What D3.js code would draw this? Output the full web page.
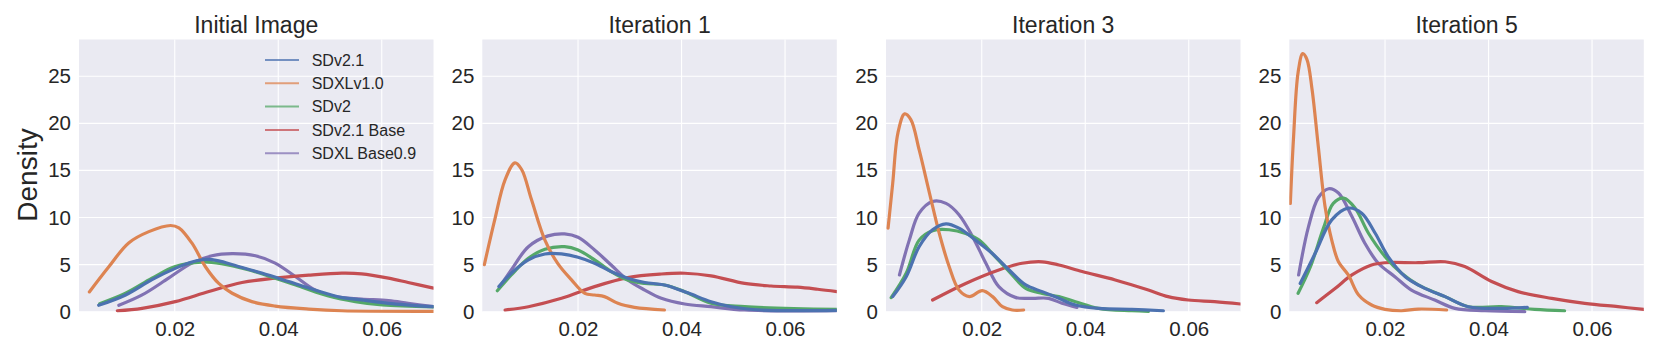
<!DOCTYPE html>
<html>
<head>
<meta charset="utf-8">
<script src="https://cdn.jsdelivr.net/npm/d3@7"></script>
<style>
  html, body { margin: 0; padding: 0; background: #ffffff; }
  svg text { font-family: "Liberation Sans", Arial, Helvetica, sans-serif; fill: #262626; }
</style>
</head>
<body>
<svg id="chart" width="1661" height="356"></svg>
<script>
// ---------- data ----------
const panelTitles = ["Initial Image", "Iteration 1", "Iteration 3", "Iteration 5"];
const seriesNames = ["SDv2.1", "SDXLv1.0", "SDv2", "SDv2.1 Base", "SDXL Base0.9"];
const seriesColors = ["#4C72B0", "#DD8452", "#55A868", "#C44E52", "#8172B3"];
const xTicks = [0.02, 0.04, 0.06];
const yTicks = [0, 5, 10, 15, 20, 25];
const xDomain = [0.0015, 0.07];
const yDomain = [0, 28.9];

// each series: one list of [x, density] points per panel
const sdv21 = [
  [[0.0053,0.68],[0.0105,1.78],[0.0156,3.4],[0.0201,4.6],[0.0235,5.3],[0.026,5.55],[0.0285,5.4],[0.0317,4.9],[0.0368,4.1],[0.042,3.2],[0.0471,2.3],[0.0523,1.5],[0.0561,1.25],[0.0613,0.89],[0.070,0.53]],
  [[0.0047,2.66],[0.0071,4.08],[0.0104,5.5],[0.0136,6.13],[0.0168,6.13],[0.02,5.78],[0.0232,5.14],[0.0264,4.26],[0.0296,3.55],[0.0329,3.1],[0.0367,2.84],[0.0412,2.0],[0.0457,1.06],[0.0496,0.53],[0.0554,0.18],[0.070,0.14]],
  [[0.0028,1.6],[0.0054,3.72],[0.0079,6.9],[0.0105,8.7],[0.0131,9.33],[0.0156,8.87],[0.0188,7.6],[0.022,6.2],[0.0253,4.43],[0.0285,2.84],[0.0317,2.13],[0.0349,1.42],[0.0381,0.71],[0.0426,0.35],[0.049,0.25],[0.0551,0.1]],
  [[0.0036,3.0],[0.0065,6.2],[0.0097,9.75],[0.0129,11.0],[0.0155,10.46],[0.0181,8.33],[0.0206,5.85],[0.0239,3.72],[0.0277,2.48],[0.0316,1.6],[0.0361,0.53],[0.0425,0.35],[0.0475,0.46]]
];
const sdxlv10 = [
  [[0.0035,2.1],[0.0073,4.8],[0.0111,7.3],[0.015,8.5],[0.0192,9.15],[0.0208,8.9],[0.0233,7.3],[0.0259,4.8],[0.0285,3.0],[0.0311,1.96],[0.0349,1.07],[0.0394,0.6],[0.0459,0.28],[0.0523,0.1],[0.070,0.04]],
  [[0.0019,5.0],[0.0039,9.75],[0.0059,14.0],[0.0078,15.8],[0.0091,15.1],[0.011,11.9],[0.0136,7.6],[0.0161,5.1],[0.0187,3.4],[0.0213,1.95],[0.0232,1.77],[0.0251,1.6],[0.0277,0.89],[0.0309,0.46],[0.0367,0.18]],
  [[0.0019,8.87],[0.0028,13.65],[0.0038,18.97],[0.0051,21.0],[0.0063,20.4],[0.0079,17.2],[0.0099,12.6],[0.0118,8.3],[0.0137,4.8],[0.0156,2.3],[0.0176,1.6],[0.0201,2.23],[0.0221,1.6],[0.024,0.53],[0.0259,0.18],[0.0281,0.18]],
  [[0.0017,11.5],[0.0023,18.3],[0.0032,25.4],[0.0041,27.4],[0.0049,26.8],[0.0059,23.6],[0.0071,17.55],[0.0084,11.2],[0.0097,7.6],[0.011,5.3],[0.0129,3.9],[0.0149,1.77],[0.0174,0.71],[0.02,0.25],[0.0232,0.1],[0.0264,0.28],[0.0319,0.18]]
];
const sdv2 = [
  [[0.0055,0.85],[0.0105,1.96],[0.0156,3.56],[0.0201,4.8],[0.0252,5.27],[0.029,5.1],[0.0342,4.45],[0.0394,3.56],[0.0446,2.6],[0.0497,1.67],[0.0549,1.07],[0.0601,0.71],[0.070,0.5]],
  [[0.0044,2.23],[0.0071,3.9],[0.0104,5.67],[0.0136,6.63],[0.0174,6.9],[0.02,6.56],[0.0232,5.5],[0.0264,4.26],[0.0296,3.37],[0.0329,3.0],[0.0367,2.84],[0.0406,2.13],[0.0457,0.89],[0.0522,0.53],[0.070,0.25]],
  [[0.0025,1.49],[0.0054,4.08],[0.0079,7.6],[0.0105,8.6],[0.0137,8.7],[0.0169,8.3],[0.0195,7.6],[0.022,6.2],[0.0253,4.26],[0.0285,2.48],[0.0317,1.95],[0.0349,1.6],[0.0381,1.06],[0.0426,0.35],[0.049,0.1],[0.0522,0.03]],
  [[0.0032,1.95],[0.0056,4.8],[0.0081,8.87],[0.01,11.5],[0.012,12.05],[0.0142,11.0],[0.0168,8.33],[0.02,5.85],[0.0232,4.08],[0.0264,2.84],[0.0316,1.6],[0.0361,0.53],[0.0425,0.53],[0.0489,0.25],[0.0547,0.1]]
];
const sdv21Base = [
  [[0.0089,0.1],[0.0137,0.36],[0.0201,1.07],[0.0266,2.14],[0.033,3.1],[0.0394,3.56],[0.0459,3.88],[0.0523,4.09],[0.0561,4.02],[0.0613,3.56],[0.0651,3.1],[0.070,2.5]],
  [[0.0059,0.18],[0.0104,0.53],[0.0168,1.42],[0.0232,2.66],[0.0296,3.62],[0.0361,4.0],[0.0406,4.08],[0.0457,3.8],[0.0522,3.0],[0.0573,2.73],[0.0624,2.6],[0.0663,2.38],[0.070,2.13]],
  [[0.0105,1.24],[0.0169,3.0],[0.0233,4.43],[0.0278,5.14],[0.0317,5.3],[0.0349,4.96],[0.0394,4.26],[0.0458,3.37],[0.0522,2.3],[0.056,1.6],[0.0599,1.24],[0.065,1.06],[0.070,0.82]],
  [[0.0068,0.96],[0.0104,2.48],[0.0136,3.9],[0.0174,4.96],[0.02,5.2],[0.0264,5.2],[0.0316,5.3],[0.0354,4.8],[0.0406,3.2],[0.0457,2.13],[0.0522,1.42],[0.0586,0.89],[0.065,0.53],[0.070,0.25]]
];
const sdxlBase09 = [
  [[0.0092,0.68],[0.0137,1.78],[0.0188,3.56],[0.0233,5.16],[0.0272,5.94],[0.0311,6.16],[0.0356,5.94],[0.0394,5.16],[0.0433,3.74],[0.0471,2.3],[0.051,1.6],[0.0561,1.35],[0.0613,1.17],[0.0651,0.89],[0.070,0.53]],
  [[0.0049,2.66],[0.0071,4.43],[0.0104,6.9],[0.0142,8.05],[0.0174,8.26],[0.02,7.9],[0.0232,6.56],[0.0264,4.96],[0.0296,3.37],[0.0329,2.3],[0.0361,1.42],[0.0406,0.82],[0.0457,0.53],[0.0522,0.18],[0.070,0.1]],
  [[0.0041,3.9],[0.006,7.6],[0.0079,10.46],[0.0105,11.7],[0.0131,11.5],[0.0156,10.3],[0.0182,8.0],[0.0208,5.14],[0.0233,2.66],[0.0265,1.52],[0.0297,1.42],[0.0329,1.42],[0.0355,0.89],[0.0384,0.46]],
  [[0.0033,3.9],[0.0052,9.0],[0.0071,12.1],[0.0091,13.05],[0.011,12.6],[0.0136,10.1],[0.0161,7.27],[0.0187,5.14],[0.0219,3.72],[0.0251,2.3],[0.0296,1.24],[0.0335,0.35],[0.0393,0.1],[0.047,0.0]]
];
const seriesData = [sdv21, sdxlv10, sdv2, sdv21Base, sdxlBase09];

// ---------- layout ----------
const svg = d3.select("#chart");
const panelLefts = [79, 482.3, 886, 1289.3];
const panelWidth = 354.5;
const plotTop = 39.5, plotBottom = 311.7;

panelLefts.forEach((left, p) => {
  const x = d3.scaleLinear().domain(xDomain).range([left, left + panelWidth]);
  const y = d3.scaleLinear().domain(yDomain).range([plotBottom, plotTop]);
  const g = svg.append("g");

  g.append("rect")
    .attr("x", left).attr("y", plotTop)
    .attr("width", panelWidth).attr("height", plotBottom - plotTop)
    .attr("fill", "#EAEAF2");

  // grid
  g.selectAll(".gx").data(xTicks).join("line")
    .attr("x1", d => x(d)).attr("x2", d => x(d))
    .attr("y1", plotTop).attr("y2", plotBottom)
    .attr("stroke", "#ffffff").attr("stroke-width", 1.1);
  g.selectAll(".gy").data(yTicks).join("line")
    .attr("x1", left).attr("x2", left + panelWidth)
    .attr("y1", d => y(d)).attr("y2", d => y(d))
    .attr("stroke", "#ffffff").attr("stroke-width", 1.1);

  // axes
  const xa = g.append("g").attr("transform", `translate(0,${plotBottom})`)
    .call(d3.axisBottom(x).tickValues(xTicks).tickSize(0).tickPadding(10).tickFormat(d3.format(".2f")));
  xa.select(".domain").remove();
  xa.selectAll("text").style("font-size", "20.5px").attr("fill", "#262626")
    .style("font-family", '"Liberation Sans", Arial, sans-serif');

  const ya = g.append("g").attr("transform", `translate(${left},0)`)
    .call(d3.axisLeft(y).tickValues(yTicks).tickSize(0).tickPadding(8).tickFormat(d3.format("d")));
  ya.select(".domain").remove();
  ya.selectAll("text").style("font-size", "20.5px").attr("fill", "#262626")
    .style("font-family", '"Liberation Sans", Arial, sans-serif');

  // title
  g.append("text")
    .attr("x", left + panelWidth / 2).attr("y", 33)
    .attr("text-anchor", "middle")
    .style("font-size", "23px")
    .text(panelTitles[p]);

  // clip
  const clipId = "clip" + p;
  svg.append("clipPath").attr("id", clipId).append("rect")
    .attr("x", left).attr("y", plotTop - 2)
    .attr("width", panelWidth).attr("height", plotBottom - plotTop + 4);

  const line = d3.line().x(d => x(d[0])).y(d => y(d[1])).curve(d3.curveCatmullRom.alpha(0.5));
  const lines = g.append("g").attr("clip-path", `url(#${clipId})`);
  // draw in reverse order so the first series ends on top
  for (let s = seriesData.length - 1; s >= 0; s--) {
    lines.append("path")
      .datum(seriesData[s][p])
      .attr("d", line)
      .attr("fill", "none")
      .attr("stroke", seriesColors[s])
      .attr("stroke-width", 3.2)
      .attr("stroke-linecap", "round")
      .attr("stroke-linejoin", "round");
  }
});

// y label
svg.append("text")
  .attr("transform", "translate(37,175) rotate(-90)")
  .attr("text-anchor", "middle")
  .style("font-size", "28px")
  .text("Density");

// legend
const legend = svg.append("g");
seriesNames.forEach((name, i) => {
  const ly = 60 + i * 23.3;
  legend.append("line")
    .attr("x1", 265).attr("x2", 299)
    .attr("y1", ly).attr("y2", ly)
    .attr("stroke", seriesColors[i]).attr("stroke-width", 2).attr("stroke-opacity", 0.75);
  legend.append("text")
    .attr("x", 311.7).attr("y", ly)
    .attr("dy", "0.35em")
    .style("font-size", "16px")
    .text(name);
});
</script>
</body>
</html>
